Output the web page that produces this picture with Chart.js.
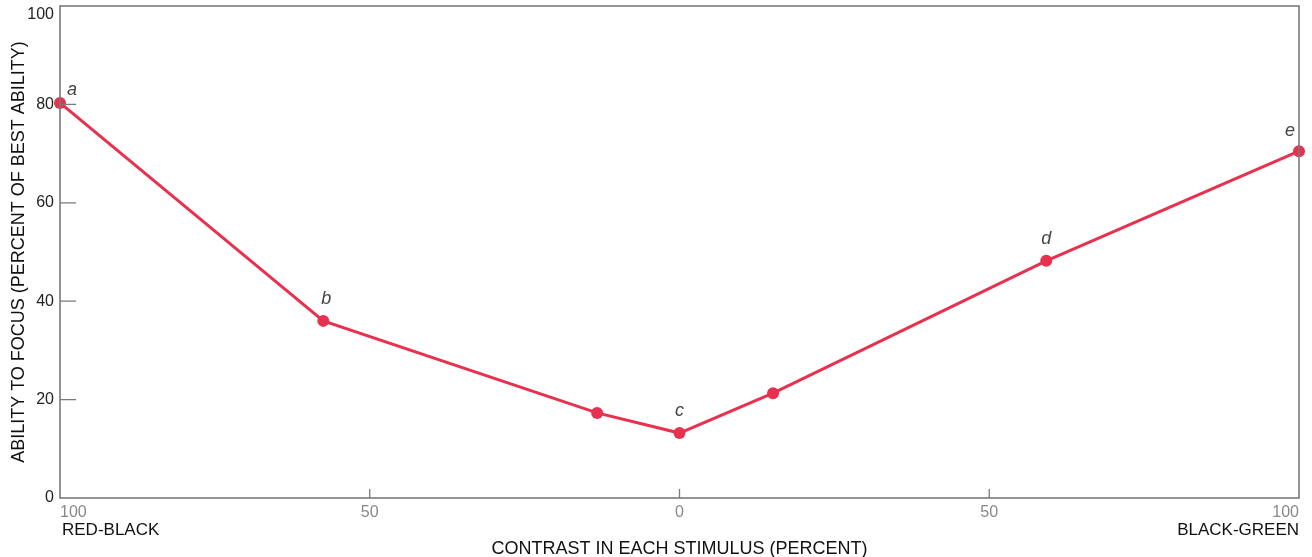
<!DOCTYPE html>
<html>
<head>
<meta charset="utf-8">
<script src="https://cdn.jsdelivr.net/npm/chart.js@4"></script>
<style>
  html, body { margin: 0; padding: 0; background: #fff; }
  #wrap { width: 1312px; height: 557px; position: relative; }
</style>
</head>
<body>
<div id="wrap"><canvas id="c" width="1312" height="557"></canvas></div>
<script>
// Contrast: negative = red-black side, positive = black-green side
const contrast = [-100, -57.5, -13.3, 0, 15.1, 59.2, 100];
const ability = [80.3, 36, 17.3, 13.2, 21.3, 48.2, 70.5];
const pointLetters = ['a', 'b', '', 'c', '', 'd', 'e'];
const xTicks = [-100, -50, 0, 50, 100];
const yTicks = [0, 20, 40, 60, 80, 100];
const endLabels = ['RED-BLACK', 'BLACK-GREEN'];

const RED = '#e8304f';
const AXIS = '#7a7a7a';
const FONT = '"Liberation Sans", Arial, Helvetica, sans-serif';

const framePlugin = {
  id: 'frame',
  afterDraw(chart) {
    const { ctx, chartArea: a, scales } = chart;
    const xs = scales.x, ys = scales.y;
    ctx.save();
    // box around the plot
    ctx.strokeStyle = AXIS;
    ctx.lineWidth = 1.6;
    ctx.strokeRect(a.left, a.top, a.right - a.left, a.bottom - a.top);
    // inward ticks
    ctx.lineWidth = 1.3;
    ctx.beginPath();
    [-50, 0, 50].forEach(v => {
      const px = xs.getPixelForValue(v);
      ctx.moveTo(px, a.bottom);
      ctx.lineTo(px, a.bottom - 9);
    });
    [20, 40, 60, 80].forEach(v => {
      const py = ys.getPixelForValue(v);
      ctx.moveTo(a.left, py);
      ctx.lineTo(a.left + 16, py);
    });
    ctx.stroke();
    // top y label sits just below the frame corner
    ctx.fillStyle = '#222';
    ctx.font = '16px ' + FONT;
    ctx.textAlign = 'right';
    ctx.textBaseline = 'middle';
    ctx.fillText(String(yTicks[yTicks.length - 1]), a.left - 6, a.top + 9);
    // end labels under the x axis
    ctx.fillStyle = '#111';
    ctx.font = '17px ' + FONT;
    ctx.textAlign = 'left';
    ctx.fillText(endLabels[0], a.left + 2, 530);
    ctx.textAlign = 'right';
    ctx.fillText(endLabels[1], a.right, 530);
    // point letters
    const meta = chart.getDatasetMeta(0);
    ctx.fillStyle = '#444';
    ctx.font = 'italic 18px ' + FONT;
    ctx.textAlign = 'center';
    ctx.textBaseline = 'alphabetic';
    const offs = [[12, -8], [3, -17], null, [0, -17], null, [0, -17], [-9, -15]];
    meta.data.forEach((pt, i) => {
      const t = pointLetters[i];
      if (!t) return;
      ctx.fillText(t, pt.x + offs[i][0], pt.y + offs[i][1]);
    });
    ctx.restore();
  }
};

new Chart(document.getElementById('c'), {
  type: 'scatter',
  data: {
    datasets: [{
      data: contrast.map((x, i) => ({ x, y: ability[i] })),
      showLine: true,
      borderColor: RED,
      backgroundColor: RED,
      borderWidth: 3,
      pointRadius: 6,
      pointHoverRadius: 6,
      pointBorderWidth: 0,
      clip: false
    }]
  },
  options: {
    responsive: false,
    animation: false,
    events: [],
    layout: { padding: { top: 6, right: 13, left: 0, bottom: 0 } },
    plugins: { legend: { display: false }, tooltip: { enabled: false } },
    scales: {
      x: {
        type: 'linear',
        min: -100, max: 100,
        afterBuildTicks: s => { s.ticks = xTicks.map(v => ({ value: v })); },
        afterFit: s => { s.height = 59; },
        grid: { display: false, drawTicks: false },
        border: { display: false },
        ticks: {
          align: 'inner',
          padding: 5,
          color: '#888',
          font: { family: FONT, size: 16 },
          callback: v => String(Math.abs(v))
        },
        title: {
          display: true,
          text: 'CONTRAST IN EACH STIMULUS (PERCENT)',
          color: '#111',
          font: { family: FONT, size: 18 },
          padding: { top: 0, bottom: -3 }
        }
      },
      y: {
        type: 'linear',
        min: 0, max: 100,
        afterBuildTicks: s => { s.ticks = yTicks.map(v => ({ value: v })); },
        afterFit: s => { s.width = 60; s.paddingTop = 0; s.paddingBottom = 0; },
        grid: { display: false, drawTicks: false },
        border: { display: false },
        ticks: {
          padding: 6,
          color: '#222',
          font: { family: FONT, size: 16 },
          callback: v => (v === 100 ? '' : String(v))
        },
        title: {
          display: true,
          text: 'ABILITY TO FOCUS (PERCENT OF BEST ABILITY)',
          color: '#111',
          font: { family: FONT, size: 18 },
          padding: { top: 8, bottom: 0 }
        }
      }
    }
  },
  plugins: [framePlugin]
});
</script>
</body>
</html>
